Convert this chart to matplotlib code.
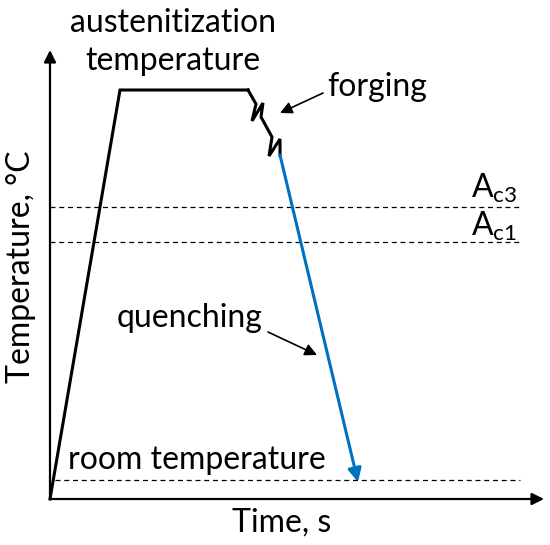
import matplotlib
matplotlib.use("Agg")
import matplotlib.pyplot as plt

plt.rcParams['font.family'] = ['Lato', 'DejaVu Sans']

# schematic heat-treatment path (time units, temperature units)
heat_time = [0, 70, 198]
heat_temp = [0, 409, 409]
forge_time = [198, 206, 202, 213, 211, 222, 219, 230, 230]
forge_temp = [409, 395, 378, 396, 382, 362, 343, 360, 344]
quench_time = [230, 308]
quench_temp = [344, 17]

# critical temperature lines
ac3_temp = 292
ac1_temp = 257
room_temp = 19
line_end = 470

labels = {
    "aust": "austenitization\ntemperature",
    "forging": "forging",
    "quenching": "quenching",
    "room": "room temperature",
    "xlabel": "Time, s",
    "ylabel": "Temperature, °C",
}

black = "#000000"
blue = "#0070C0"
fs = 23

fig = plt.figure(figsize=(5.5, 5.45), dpi=100)
ax = fig.add_axes([0, 0, 1, 1])
ax.set_xlim(-50, 500)
ax.set_ylim(-46, 499)
ax.axis("off")

# axes with arrows
ax.annotate("", xy=(0, 449), xytext=(0, 0),
            arrowprops=dict(arrowstyle="-|>", lw=1.6, color=black,
                            mutation_scale=18, shrinkA=0, shrinkB=0))
ax.annotate("", xy=(494, 0), xytext=(0, 0),
            arrowprops=dict(arrowstyle="-|>", lw=1.6, color=black,
                            mutation_scale=18, shrinkA=0, shrinkB=0))

# dashed reference lines
for T, x0 in [(ac3_temp, 0), (ac1_temp, 0), (room_temp, 5)]:
    ax.plot([x0, line_end], [T, T], color=black, lw=0.9, ls=(0, (4, 3)))

# heating + holding + forging
ax.plot(heat_time, heat_temp, color=black, lw=2.2, solid_joinstyle="miter")
ax.plot(forge_time, forge_temp, color=black, lw=2.2, solid_joinstyle="miter")

# quenching
ax.annotate("", xy=(quench_time[1], quench_temp[1]),
            xytext=(quench_time[0], quench_temp[0]),
            arrowprops=dict(arrowstyle="-|>", lw=2.2, color=blue,
                            mutation_scale=20, shrinkA=0, shrinkB=0))

# labels
ax.text(123, 457, labels["aust"], ha="center", va="center", fontsize=fs,
        linespacing=1.3)
ax.text(327, 412, labels["forging"], ha="center", va="center", fontsize=fs)
ax.annotate("", xy=(230, 386), xytext=(273, 406),
            arrowprops=dict(arrowstyle="-|>", lw=1.2, color=black,
                            mutation_scale=18, shrinkA=0, shrinkB=0))
ax.text(140, 181, labels["quenching"], ha="center", va="center", fontsize=fs)
ax.annotate("", xy=(267, 144), xytext=(218, 167),
            arrowprops=dict(arrowstyle="-|>", lw=1.2, color=black,
                            mutation_scale=18, shrinkA=0, shrinkB=0))
ax.text(147, 39, labels["room"], ha="center", va="center", fontsize=fs)
ax.text(467, 311, r"A$_\mathregular{c3}$", ha="right", va="center", fontsize=fs)
ax.text(467, 273, r"A$_\mathregular{c1}$", ha="right", va="center", fontsize=fs)
ax.text(232, -24, labels["xlabel"], ha="center", va="center", fontsize=fs)
ax.text(-29, 232, labels["ylabel"], ha="center", va="center", fontsize=fs,
        rotation=90)

fig.savefig("out.png", dpi=100)
